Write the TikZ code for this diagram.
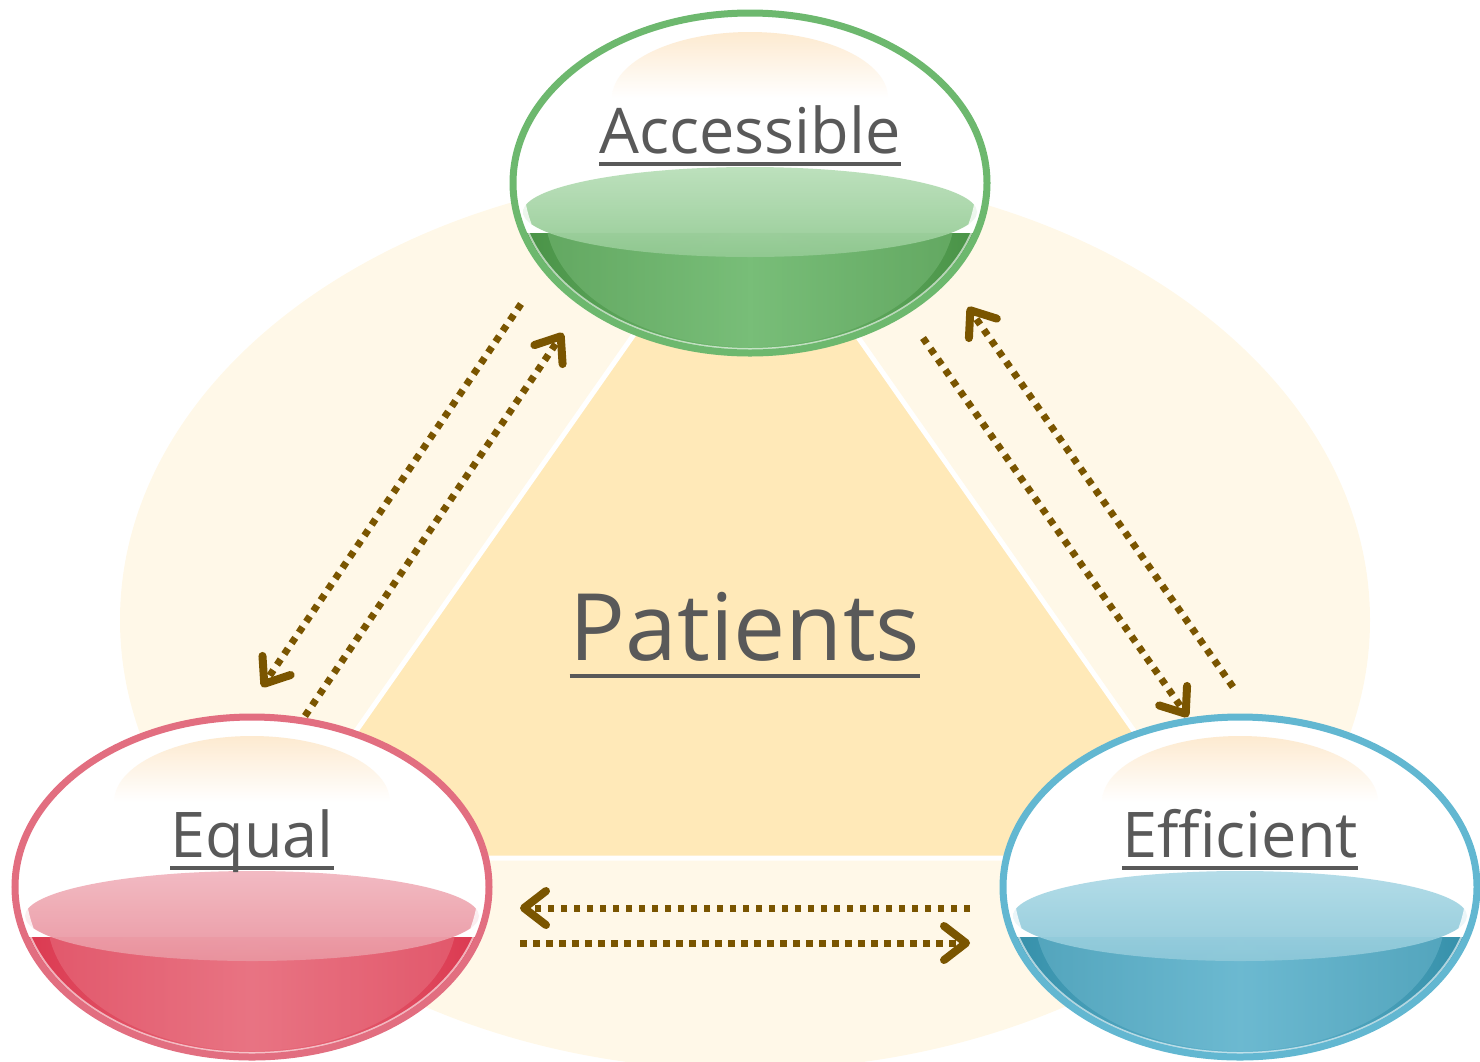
\documentclass[tikz,border=0pt]{standalone}
\usepackage{fontspec}
\setmainfont{Open Sans}
\usetikzlibrary{arrows.meta,shapes.geometric}
\definecolor{bgpale}{HTML}{FFF8E8}
\definecolor{tri}{HTML}{FFE9B8}
\definecolor{brownarrow}{HTML}{7A5500}
\definecolor{txtgray}{HTML}{595959}
\definecolor{hilite}{HTML}{FDEAD0}
\definecolor{gRing}{HTML}{6DB86E}
\definecolor{gDark}{HTML}{458E42}
\definecolor{gMid}{HTML}{70BA70}
\definecolor{gSurfT}{HTML}{BAE0BA}
\definecolor{gSurfB}{HTML}{92C992}
\definecolor{rRing}{HTML}{E26E80}
\definecolor{rDark}{HTML}{DA344C}
\definecolor{rMid}{HTML}{E76B7B}
\definecolor{rSurfT}{HTML}{F2B7C0}
\definecolor{rSurfB}{HTML}{EA949F}
\definecolor{bRing}{HTML}{62B7D1}
\definecolor{bDark}{HTML}{318CA6}
\definecolor{bMid}{HTML}{63B5CE}
\definecolor{bSurfT}{HTML}{B0DBE7}
\definecolor{bSurfB}{HTML}{8DC8D9}
\tikzset{
  flow/.style={brownarrow, line width=7pt, dash pattern=on 6.5pt off 6.5pt,
    -{Straight Barb[length=22pt,width=34pt,line width=8pt,round]}},
  bubblelabel/.style={anchor=base, inner sep=0pt, text=txtgray,
    font=\fontsize{63pt}{70pt}\selectfont},
  biglabel/.style={anchor=base, inner sep=0pt, text=txtgray,
    font=\fontsize{93pt}{100pt}\selectfont},
  uline/.style={txtgray, line width=3.5pt}
}
\newcommand\mybubble[9]{%
  \node[ellipse, minimum width=480pt, minimum height=346pt, inner sep=0pt] (#1) at (#2,#3) {};
  \begin{scope}[shift={(#2,#3)}]
    \fill[white] (0,0) ellipse [x radius=240pt, y radius=173pt];
    \shade[top color=hilite, bottom color=white]
      (-138pt,85pt) arc[start angle=180, end angle=0, x radius=138pt, y radius=66pt] -- cycle;
    \begin{scope}
      \clip (0,0) ellipse [x radius=236pt, y radius=169pt];
      \clip (-250pt,-50pt) rectangle (250pt,-200pt);
      \fill[left color=#5, right color=#5, middle color=#6] (-250pt,-50pt) rectangle (250pt,-200pt);
      \fill[#6!85!white, opacity=0.4] (0,-29pt) ellipse [x radius=205pt, y radius=135pt];
    \end{scope}
    \shade[top color=#7, bottom color=#8, opacity=0.95] (0,-29pt) ellipse [x radius=227pt, y radius=45pt];
    \begin{scope}
      \clip (-250pt,200pt) rectangle (250pt,-40pt);
      \draw[white, line width=8pt, opacity=0.8] (0,0) ellipse [x radius=230pt, y radius=164pt];
    \end{scope}
    \draw[white, line width=2pt, opacity=0.6] (0,0) ellipse [x radius=232pt, y radius=166pt];
    \draw[#4, line width=7pt] (0,0) ellipse [x radius=237pt, y radius=170pt];
    \node[bubblelabel] (#1lbl) at (0pt,30pt) {#9};
    \draw[uline] ([yshift=-11pt]#1lbl.base west) -- ([yshift=-11pt]#1lbl.base east);
  \end{scope}
}
\begin{document}
\begin{tikzpicture}[x=1pt,y=-1pt]
\useasboundingbox (0,0) rectangle (1480,1061);
% background
\fill[bgpale] (745,620) ellipse [x radius=625pt, y radius=450pt];
\filldraw[fill=tri, draw=white, line width=5pt, line join=miter]
  (745,176) -- (267,858) -- (1223,858) -- cycle;
\node[biglabel] (patients) at (745,660) {Patients};
\draw[txtgray, line width=4pt] ([yshift=-16pt]patients.base west) -- ([yshift=-16pt]patients.base east);
% arrow end points
\coordinate (a1s) at (521,304);
\coordinate (a1e) at (262,687);
\coordinate (a2s) at (305,716);
\coordinate (a2e) at (563,333);
\coordinate (a3s) at (1233,687);
\coordinate (a3e) at (968,307);
\coordinate (a4s) at (923,338);
\coordinate (a4e) at (1188,717);
\coordinate (a5s) at (970,908);
\coordinate (a5e) at (520,908);
\coordinate (a6s) at (520,943);
\coordinate (a6e) at (970,943);
\draw[flow] (a1s) -- (a1e);
\draw[flow] (a2s) -- (a2e);
\draw[flow] (a3s) -- (a3e);
\draw[flow] (a4s) -- (a4e);
\draw[flow] (a5s) -- (a5e);
\draw[flow] (a6s) -- (a6e);
% bubbles
\mybubble{acc}{750}{183}{gRing}{gDark}{gMid}{gSurfT}{gSurfB}{Accessible}
\mybubble{equ}{252}{887}{rRing}{rDark}{rMid}{rSurfT}{rSurfB}{Equal}
\mybubble{eff}{1240}{887}{bRing}{bDark}{bMid}{bSurfT}{bSurfB}{Efficient}
\end{tikzpicture}
\end{document}
